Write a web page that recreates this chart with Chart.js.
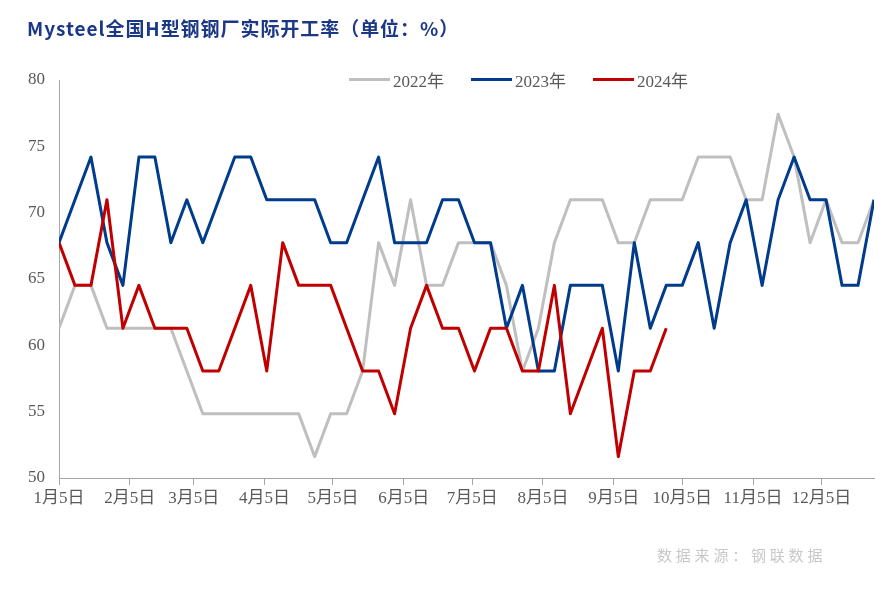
<!DOCTYPE html>
<html>
<head>
<meta charset="utf-8">
<script src="https://cdn.jsdelivr.net/npm/chart.js@4.4.1/dist/chart.umd.min.js"></script>
<style>
  html, body { margin: 0; padding: 0; background: #fff; }
  #wrap { position: relative; width: 885px; height: 590px; overflow: hidden; }
  #chart { position: absolute; left: 0; top: 0; }
  #title {
    position: absolute; left: 27px; top: 15px; white-space: nowrap;
    font: bold 19px "Noto Sans CJK SC", sans-serif; letter-spacing: 0.95px;
    color: #1b3886; line-height: 26px;
  }
  #legend {
    position: absolute; left: 349px; top: 67px; display: flex; align-items: center;
    font: 17px "Liberation Serif", "Noto Sans CJK SC", serif; color: #595959;
  }
  #legend .item { display: flex; align-items: center; margin-right: 27px; }
  #legend .swatch { width: 41px; height: 3px; margin-right: 3px; }
  #source {
    position: absolute; left: 657px; top: 544px; white-space: nowrap;
    font: 15px "Noto Sans CJK SC", sans-serif; letter-spacing: 3.8px; color: #c8c8c8;
  }
</style>
</head>
<body>
<div id="wrap">
  <canvas id="chart" width="885" height="590"></canvas>
  <div id="title">Mysteel全国H型钢钢厂实际开工率（单位：%）</div>
  <div id="legend"></div>
  <div id="source">数据来源：钢联数据</div>
</div>
<script>
// 周度数据，每周一个点（从1月5日起）
const SERIES_NAMES = ["2022年", "2023年", "2024年"];
const SERIES_COLORS = ["#bfbfbf", "#003b8c", "#c00000"];

const DATA_2022 = [
  61.29, 64.52, 64.52, 61.29, 61.29, 61.29, 61.29, 61.29, 58.06, 54.84, 54.84,
  54.84, 54.84, 54.84, 54.84, 54.84, 51.61, 54.84, 54.84, 58.06, 67.74, 64.52,
  70.97, 64.52, 64.52, 67.74, 67.74, 67.74, 64.52, 58.06, 61.29, 67.74,
  70.97, 70.97, 70.97, 67.74, 67.74, 70.97, 70.97, 70.97, 74.19, 74.19, 74.19,
  70.97, 70.97, 77.42, 74.19, 67.74, 70.97, 67.74, 67.74, 70.97
];
const DATA_2023 = [
  67.74, 70.97, 74.19, 67.74, 64.52, 74.19, 74.19, 67.74, 70.97, 67.74, 70.97,
  74.19, 74.19, 70.97, 70.97, 70.97, 70.97, 67.74, 67.74, 70.97, 74.19,
  67.74, 67.74, 67.74, 70.97, 70.97, 67.74, 67.74, 61.29, 64.52, 58.06, 58.06,
  64.52, 64.52, 64.52, 58.06, 67.74, 61.29, 64.52, 64.52, 67.74, 61.29, 67.74,
  70.97, 64.52, 70.97, 74.19, 70.97, 70.97, 64.52, 64.52, 70.97
];
const DATA_2024 = [
  67.74, 64.52, 64.52, 70.97, 61.29, 64.52, 61.29, 61.29, 61.29, 58.06, 58.06,
  61.29, 64.52, 58.06, 67.74, 64.52, 64.52, 64.52, 61.29, 58.06, 58.06,
  54.84, 61.29, 64.52, 61.29, 61.29, 58.06, 61.29, 61.29, 58.06, 58.06,
  64.52, 54.84, 58.06, 61.29, 51.61, 58.06, 58.06, 61.29
];

// x轴：距1月5日的天数
const TICK_DAYS = [0, 31, 59, 90, 120, 151, 181, 212, 243, 273, 304, 334];
const TICK_LABELS = ["1月5日", "2月5日", "3月5日", "4月5日", "5月5日", "6月5日",
                     "7月5日", "8月5日", "9月5日", "10月5日", "11月5日", "12月5日"];
const Y_MIN = 50, Y_MAX = 80, Y_STEP = 5;

const AXIS_FONT = { family: '"Liberation Serif", "Noto Sans CJK SC", serif', size: 17 };
const AXIS_COLOR = '#a6a6a6';
const TEXT_COLOR = '#595959';

function toPoints(values) {
  return values.map((v, i) => ({ x: i * 7, y: v }));
}

// --- legend (html) ---
const legendEl = document.getElementById('legend');
SERIES_NAMES.forEach((name, i) => {
  const item = document.createElement('div');
  item.className = 'item';
  item.innerHTML = `<span class="swatch" style="background:${SERIES_COLORS[i]}"></span><span>${name}</span>`;
  legendEl.appendChild(item);
});

// --- chart ---
const seriesData = [DATA_2022, DATA_2023, DATA_2024];
const ctx = document.getElementById('chart').getContext('2d');
new Chart(ctx, {
  type: 'line',
  data: {
    datasets: seriesData.map((vals, i) => ({
      label: SERIES_NAMES[i],
      data: toPoints(vals),
      borderColor: SERIES_COLORS[i],
      backgroundColor: SERIES_COLORS[i],
      borderWidth: 3,
      pointRadius: 0,
      tension: 0,
      fill: false,
      borderJoinStyle: 'round',
      order: 3 - i
    }))
  },
  options: {
    responsive: false,
    animation: false,
    layout: { padding: { left: 19, right: 11, top: 80, bottom: 72 } },
    plugins: {
      legend: { display: false },
      tooltip: { enabled: false }
    },
    scales: {
      x: {
        type: 'linear',
        min: 0,
        max: 357,
        afterBuildTicks: s => { s.ticks = TICK_DAYS.map(v => ({ value: v })); },
        afterFit: s => { s.height = 40; },
        grid: { drawOnChartArea: false, drawTicks: true, tickLength: 7, color: AXIS_COLOR },
        border: { color: AXIS_COLOR, width: 1 },
        ticks: {
          autoSkip: false, maxRotation: 0, padding: 3,
          color: TEXT_COLOR, font: AXIS_FONT,
          callback: v => TICK_LABELS[TICK_DAYS.indexOf(v)] ?? ''
        }
      },
      y: {
        min: Y_MIN,
        max: Y_MAX,
        afterFit: s => { s.width = 40; },
        grid: { display: false, drawTicks: false },
        border: { color: AXIS_COLOR, width: 1 },
        ticks: { stepSize: Y_STEP, padding: 14, color: TEXT_COLOR, font: AXIS_FONT }
      }
    }
  }
});
</script>
</body>
</html>
